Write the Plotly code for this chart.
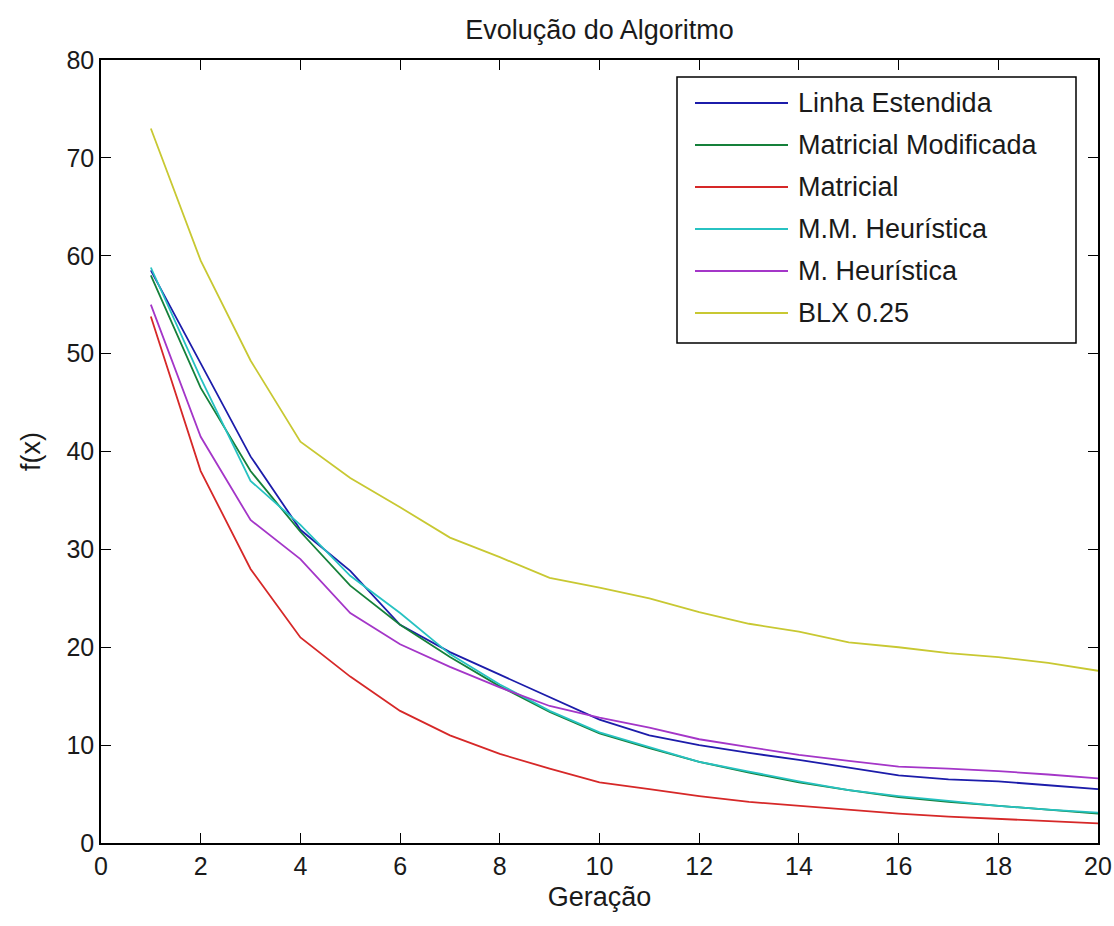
import plotly.graph_objects as go

# Generations (x axis)
geracao = list(range(1, 21))

# Best f(x) per generation for each crossover operator
linha_estendida = [58.5, 49.0, 39.5, 32.0, 27.8, 22.3, 19.5, 17.2, 14.9, 12.6,
                   11.0, 10.0, 9.2, 8.5, 7.7, 6.9, 6.5, 6.3, 5.9, 5.5]
matricial_modificada = [58.0, 46.5, 38.0, 31.8, 26.3, 22.3, 19.0, 16.0, 13.4, 11.2,
                        9.7, 8.3, 7.2, 6.2, 5.4, 4.7, 4.2, 3.8, 3.4, 3.0]
matricial = [53.8, 38.0, 28.0, 21.0, 17.0, 13.5, 11.0, 9.1, 7.6, 6.2,
             5.5, 4.8, 4.2, 3.8, 3.4, 3.0, 2.7, 2.45, 2.2, 2.0]
mm_heuristica = [58.8, 47.5, 37.0, 32.5, 27.3, 23.5, 19.3, 16.2, 13.5, 11.3,
                 9.8, 8.3, 7.3, 6.3, 5.4, 4.8, 4.3, 3.8, 3.4, 3.1]
m_heuristica = [55.0, 41.5, 33.0, 29.0, 23.5, 20.3, 18.0, 15.9, 14.0, 12.8,
                11.8, 10.6, 9.8, 9.0, 8.4, 7.8, 7.6, 7.35, 7.0, 6.6]
blx_025 = [73.0, 59.5, 49.3, 41.0, 37.3, 34.3, 31.2, 29.2, 27.1, 26.1,
           25.0, 23.6, 22.4, 21.6, 20.5, 20.0, 19.4, 19.0, 18.4, 17.6]

nomes = ["Linha Estendida", "Matricial Modificada", "Matricial",
         "M.M. Heurística", "M. Heurística", "BLX 0.25"]
series = [linha_estendida, matricial_modificada, matricial,
          mm_heuristica, m_heuristica, blx_025]
cores = ["#1c1caa", "#15803a", "#d62828", "#27c2c2", "#a436c8", "#c8c832"]

x_ticks = list(range(0, 21, 2))
y_ticks = list(range(0, 81, 10))

W, H = 1114, 926
L, R, T, B = 101, 16, 60, 83
pw, ph = W - L - R, H - T - B

txt_font = "Liberation Sans, Arial, sans-serif"
ink = "#1a1a1a"

fig = go.Figure()
for nome, ys, cor in zip(nomes, series, cores):
    fig.add_trace(go.Scatter(x=geracao, y=ys, mode="lines", name=nome,
                             line=dict(color=cor, width=1.8), showlegend=False))


def px_x(px):
    return (px - L) / pw


def px_y(py):
    return (H - B - py) / ph


# Boxed legend in the upper-right corner with long line samples
shapes = [dict(type="rect", xref="paper", yref="paper",
               x0=px_x(677), x1=px_x(1076), y0=px_y(343), y1=px_y(77),
               line=dict(color="black", width=1.5), fillcolor="white", layer="above")]
annotations = []
row0, dy = 103, 42
for i, (nome, cor) in enumerate(zip(nomes, cores)):
    yy = px_y(row0 + i * dy)
    shapes.append(dict(type="line", xref="paper", yref="paper",
                       x0=px_x(695), x1=px_x(788), y0=yy, y1=yy,
                       line=dict(color=cor, width=1.8), layer="above"))
    annotations.append(dict(xref="paper", yref="paper", x=px_x(796), y=yy,
                            text=nome, showarrow=False, xanchor="left",
                            yanchor="middle",
                            font=dict(family=txt_font, size=27, color=ink)))

axis_common = dict(showline=True, linecolor="black", linewidth=1.5, mirror="allticks",
                   ticks="inside", ticklen=10, tickwidth=1.3, tickcolor="black",
                   showgrid=False, zeroline=False, automargin=False,
                   tickfont=dict(family=txt_font, size=25, color=ink))

fig.update_layout(
    width=W, height=H,
    margin=dict(l=L, r=R, t=T, b=B),
    paper_bgcolor="white", plot_bgcolor="white",
    title=dict(text="Evolução do Algoritmo", x=0.5, xref="paper", xanchor="center",
               y=1 - 30 / H, yanchor="middle", automargin=False,
               font=dict(family=txt_font, size=27, color=ink)),
    xaxis=dict(range=[0, 20], tickvals=x_ticks,
               title=dict(text="Geração", standoff=8,
                          font=dict(family=txt_font, size=27, color=ink)),
               **axis_common),
    yaxis=dict(range=[0, 80], tickvals=y_ticks,
               title=dict(text="f(x)", standoff=18,
                          font=dict(family=txt_font, size=27, color=ink)),
               **axis_common),
    shapes=shapes,
    annotations=annotations,
)

fig.write_html("out.html")
